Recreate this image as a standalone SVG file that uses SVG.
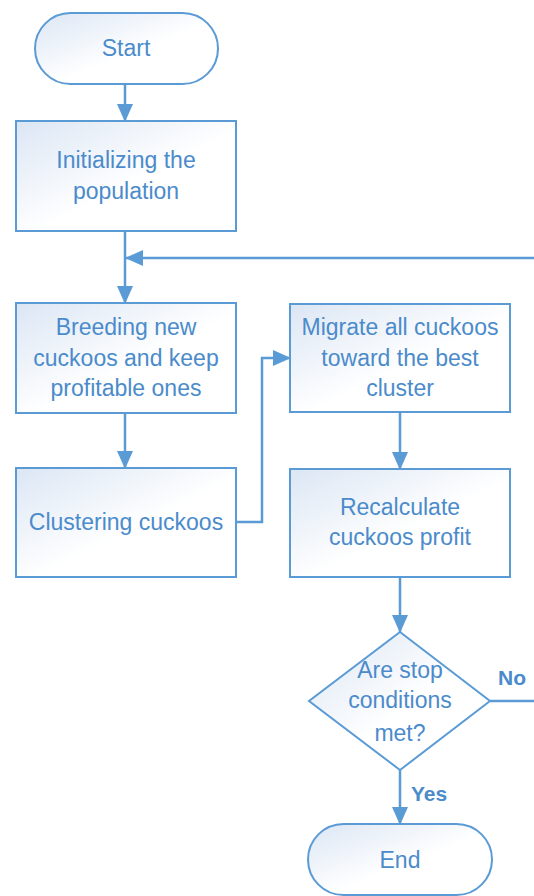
<svg xmlns="http://www.w3.org/2000/svg" width="534" height="896" viewBox="0 0 534 896">
<defs>
<linearGradient id="g" x1="0" y1="0" x2="1" y2="1">
<stop offset="0" stop-color="#dbe6f4"/>
<stop offset="0.55" stop-color="#ffffff"/>
<stop offset="1" stop-color="#ffffff"/>
</linearGradient>
<marker id="arr" markerUnits="userSpaceOnUse" markerWidth="18" markerHeight="16" refX="17" refY="8" orient="auto">
<path d="M0,0 L18,8 L0,16 Z" fill="#5b9bd5"/>
</marker>
<style>
.n{fill:url(#g);stroke:#5b9bd5;stroke-width:2}
.t{font-family:"Liberation Sans",Arial,sans-serif;font-size:23px;fill:#4b8bcb;text-anchor:middle}
.b{font-family:"Liberation Sans",Arial,sans-serif;font-size:21px;font-weight:bold;fill:#4b8bcb}
.c{fill:none;stroke:#5b9bd5;stroke-width:2.5}
</style>
</defs>
<rect width="534" height="896" fill="#ffffff"/>
<g id="connectors">
<path class="c" d="M125,84 V121" marker-end="url(#arr)"/>
<path class="c" d="M125,231 V303" marker-end="url(#arr)"/>
<path class="c" d="M534,258 H126" marker-end="url(#arr)"/>
<path class="c" d="M125,413 V468" marker-end="url(#arr)"/>
<path class="c" d="M236,522 H262 V358 H290" marker-end="url(#arr)"/>
<path class="c" d="M400,412 V469" marker-end="url(#arr)"/>
<path class="c" d="M400,577 V632" marker-end="url(#arr)"/>
<path class="c" d="M490,701 H534"/>
<path class="c" d="M400,770 V824" marker-end="url(#arr)"/>
<text class="b" x="498" y="685">No</text>
<text class="b" x="411" y="801">Yes</text>
</g>
<g id="start">
<rect class="n" x="35" y="13" width="183" height="71" rx="35.5"/>
<text class="t" x="126" y="56">Start</text>
</g>
<g id="init">
<rect class="n" x="16" y="121" width="220" height="110"/>
<text class="t" x="126" y="168">Initializing the</text>
<text class="t" x="126" y="199">population</text>
</g>
<g id="breeding">
<rect class="n" x="16" y="303" width="220" height="110"/>
<text class="t" x="126" y="335">Breeding new</text>
<text class="t" x="126" y="366">cuckoos and keep</text>
<text class="t" x="126" y="396">profitable ones</text>
</g>
<g id="clustering">
<rect class="n" x="16" y="468" width="220" height="109"/>
<text class="t" x="126" y="530">Clustering cuckoos</text>
</g>
<g id="migrate">
<rect class="n" x="290" y="304" width="220" height="108"/>
<text class="t" x="400" y="335">Migrate all cuckoos</text>
<text class="t" x="400" y="366">toward the best</text>
<text class="t" x="400" y="396">cluster</text>
</g>
<g id="recalculate">
<rect class="n" x="290" y="469" width="220" height="108"/>
<text class="t" x="400" y="515">Recalculate</text>
<text class="t" x="400" y="545">cuckoos profit</text>
</g>
<g id="decision">
<polygon class="n" points="400,632 490,701 400,770 309,701"/>
<text class="t" x="400" y="678">Are stop</text>
<text class="t" x="400" y="708">conditions</text>
<text class="t" x="400" y="741">met?</text>
</g>
<g id="end">
<rect class="n" x="308" y="824" width="184" height="71" rx="35.5"/>
<text class="t" x="400" y="868">End</text>
</g>
</svg>
